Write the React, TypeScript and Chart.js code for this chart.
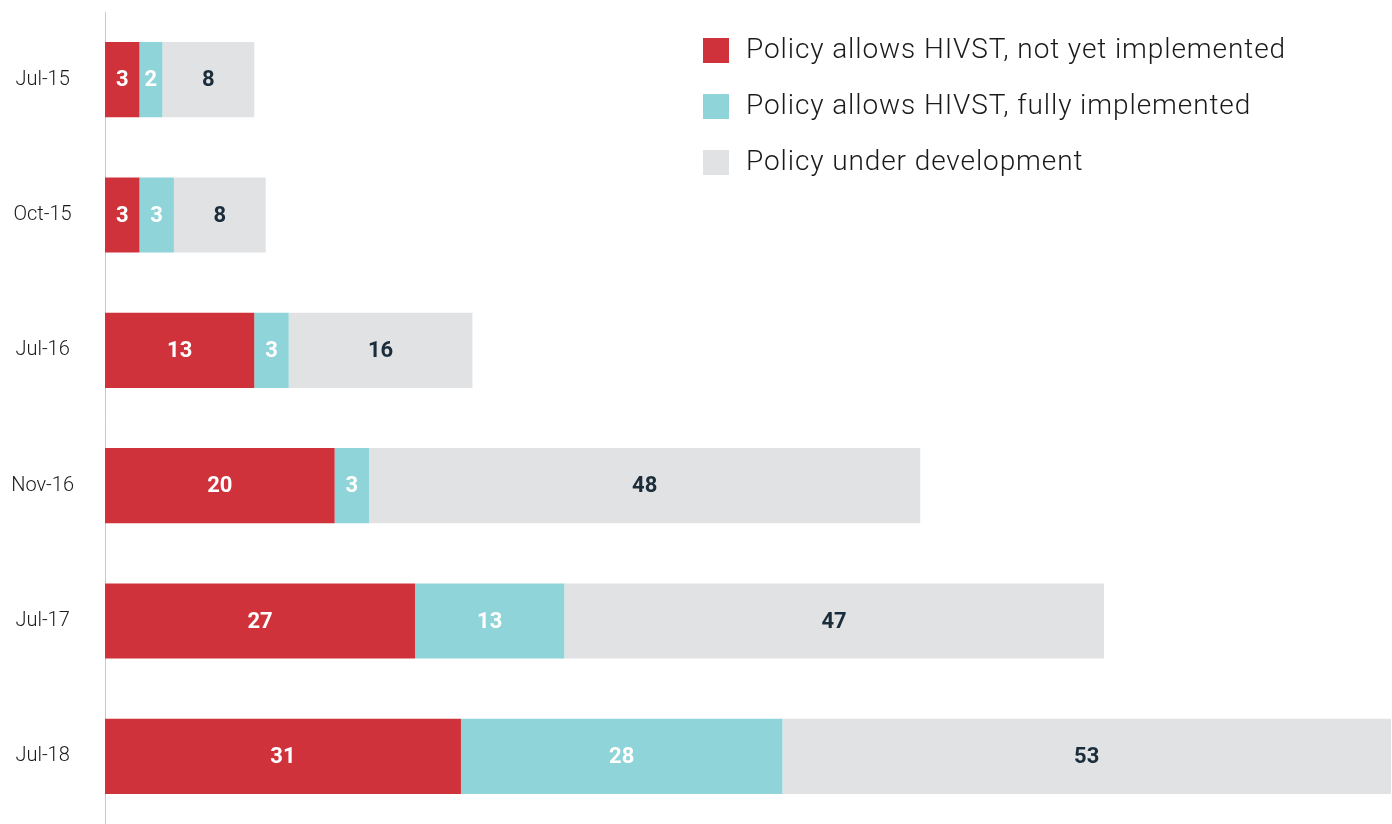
import React, { useEffect, useRef } from "react";
import { Chart, registerables } from "chart.js";

Chart.register(...registerables);

const categories = ["Jul-15", "Oct-15", "Jul-16", "Nov-16", "Jul-17", "Jul-18"];
const notYetImplemented = [3, 3, 13, 20, 27, 31];
const fullyImplemented = [2, 3, 3, 3, 13, 28];
const underDevelopment = [8, 8, 16, 48, 47, 53];
const seriesLabels = [
  "Policy allows HIVST, not yet implemented",
  "Policy allows HIVST, fully implemented",
  "Policy under development",
];
const xMax = 112;

const COLORS = ["#cf323b", "#8fd4d9", "#e1e2e4"];
const LABEL_COLORS = ["#ffffff", "#ffffff", "#1b2d3b"];

const valueLabels = {
  id: "valueLabels",
  afterDatasetsDraw(chart: any) {
    const ctx = chart.ctx;
    ctx.save();
    ctx.font = "bold 22px Roboto";
    ctx.textAlign = "center";
    ctx.textBaseline = "middle";
    chart.data.datasets.forEach((ds: any, i: number) => {
      const meta = chart.getDatasetMeta(i);
      ctx.fillStyle = LABEL_COLORS[i];
      meta.data.forEach((el: any, j: number) => {
        const cx = (el.x + el.base) / 2;
        ctx.fillText(String(ds.data[j]), cx, el.y + 1);
      });
    });
    ctx.restore();
  },
};

const customLegend = {
  id: "customLegend",
  afterDraw(chart: any) {
    const ctx = chart.ctx;
    ctx.save();
    ctx.font = "300 28px Roboto";
    (ctx as any).letterSpacing = "0.9px";
    ctx.textAlign = "left";
    ctx.textBaseline = "middle";
    chart.data.datasets.forEach((ds: any, i: number) => {
      const y = 38 + i * 56;
      ctx.fillStyle = ds.backgroundColor;
      ctx.fillRect(703, y, 26, 25);
      ctx.fillStyle = "#1a1a1a";
      ctx.fillText(ds.label, 746, y + 12.5);
    });
    ctx.restore();
  },
};

export default function App() {
  const ref = useRef<HTMLCanvasElement>(null);
  useEffect(() => {
    if (!ref.current) return;
    const chart = new Chart(ref.current, {
      type: "bar",
      data: {
        labels: categories,
        datasets: [
          { label: seriesLabels[0], data: notYetImplemented, backgroundColor: COLORS[0] },
          { label: seriesLabels[1], data: fullyImplemented, backgroundColor: COLORS[1] },
          { label: seriesLabels[2], data: underDevelopment, backgroundColor: COLORS[2] },
        ],
      },
      options: {
        indexAxis: "y",
        responsive: false,
        animation: false,
        barPercentage: 0.555,
        categoryPercentage: 1,
        layout: { padding: { top: 12, right: 1, bottom: 0, left: 0 } },
        plugins: { legend: { display: false }, tooltip: { enabled: false } },
        scales: {
          x: { stacked: true, min: 0, max: xMax, display: false },
          y: {
            stacked: true,
            afterFit: (s: any) => {
              s.width = 105;
              s.paddingTop = 0;
              s.paddingBottom = 0;
            },
            grid: { display: false, drawTicks: false },
            border: { display: true, color: "#c9c9c9", width: 1 },
            ticks: {
              padding: 31,
              crossAlign: "center",
              color: "#1a1a1a",
              font: { family: "Roboto", size: 20, weight: "300" },
            },
          },
        },
      } as any,
      plugins: [valueLabels, customLegend],
    });
    return () => chart.destroy();
  }, []);
  return (
    <div style={{ position: "absolute", left: 0, top: 0, width: 1392, height: 824, background: "#fff" }}>
      <canvas ref={ref} width={1392} height={824} style={{ display: "block" }} />
    </div>
  );
}
